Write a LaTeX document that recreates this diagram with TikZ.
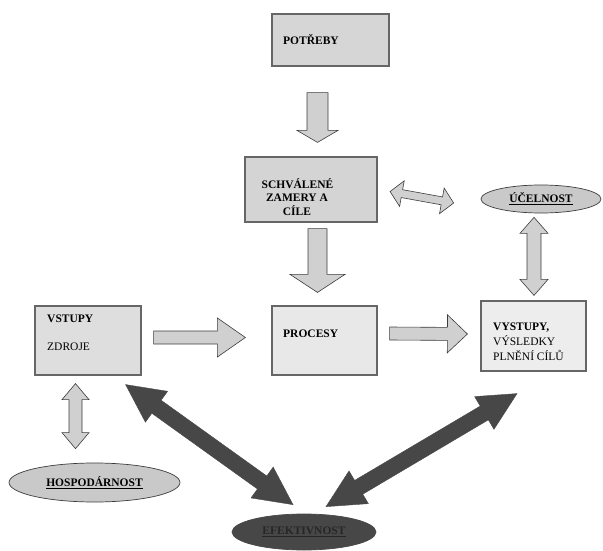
\documentclass[tikz,border=0pt]{standalone}
\usepackage{fontspec}
\setmainfont{Liberation Serif}
\usetikzlibrary{calc,shapes.geometric}

\definecolor{boxline}{HTML}{666666}
\definecolor{arrowline}{HTML}{3C3C3C}
\definecolor{arrowfill}{HTML}{D0D0D0}
\definecolor{darkfill}{HTML}{474747}
\definecolor{ovalfill}{HTML}{C9C9C9}

% block arrow with one head: style, tail, tip, shaft half-width, head half-width, head length
\newcommand{\singleblockarrow}[6]{%
  \draw[#1] ($(#2)!#4!90:(#3)$)
    -- ($(#3)!#6!(#2)!#4!-90:(#2)$)
    -- ($(#3)!#6!(#2)!#5!-90:(#2)$)
    -- (#3)
    -- ($(#3)!#6!(#2)!#5!90:(#2)$)
    -- ($(#3)!#6!(#2)!#4!90:(#2)$)
    -- ($(#2)!#4!-90:(#3)$)
    -- cycle;}

% block arrow with a head at both ends
\newcommand{\doubleblockarrow}[6]{%
  \draw[#1] (#2)
    -- ($(#2)!#6!(#3)!#5!90:(#3)$)
    -- ($(#2)!#6!(#3)!#4!90:(#3)$)
    -- ($(#3)!#6!(#2)!#4!-90:(#2)$)
    -- ($(#3)!#6!(#2)!#5!-90:(#2)$)
    -- (#3)
    -- ($(#3)!#6!(#2)!#5!90:(#2)$)
    -- ($(#3)!#6!(#2)!#4!90:(#2)$)
    -- ($(#2)!#6!(#3)!#4!-90:(#3)$)
    -- ($(#2)!#6!(#3)!#5!-90:(#3)$)
    -- cycle;}

\tikzset{
  stage/.style={draw=boxline, line width=1.2pt, inner sep=0pt},
  lbl/.style={anchor=base west, inner sep=0pt, font=\fontsize{11.5}{13}\selectfont},
  blbl/.style={lbl, font=\fontsize{11.5}{13}\selectfont\bfseries},
  clbl/.style={anchor=base, inner sep=0pt, font=\fontsize{11.5}{13}\selectfont\bfseries},
  lightarrow/.style={draw=arrowline, fill=arrowfill, line width=0.6pt, line join=miter},
  darkarrow/.style={draw=darkfill, fill=darkfill, line width=0.4pt},
  oval/.style={ellipse, draw=arrowline, line width=0.7pt, inner sep=0pt,
    font=\fontsize{11.5}{13}\selectfont\bfseries},
}

\begin{document}
\begin{tikzpicture}[x=1pt, y=-1pt]
\useasboundingbox[fill=white] (0,0) rectangle (603,551);

% stages
\node[stage, fill=black!16, minimum width=117pt, minimum height=52pt] (potreby) at (330.5,40) {};
\node[stage, fill=black!17, minimum width=132pt, minimum height=65pt] (schvalene) at (311,189.5) {};
\node[stage, fill=black!13, minimum width=106pt, minimum height=69pt] (vstupy) at (88,340.5) {};
\node[stage, fill=black!9, minimum width=105pt, minimum height=69pt] (procesy) at (324.5,340.5) {};
\node[stage, fill=black!7, minimum width=105pt, minimum height=70pt] (vystupy) at (533.5,336) {};

% stage texts
\node[blbl] (tpotreby) at (283,45) {POTŘEBY};
\node[clbl] (tschv1) at (297.5,188) {SCHVÁLENÉ};
\node[clbl] (tschv2) at (297,201.5) {ZAMERY A};
\node[clbl] (tschv3) at (297,215) {CÍLE};
\node[blbl] (tvstupy) at (47,322) {VSTUPY};
\node[lbl] (tzdroje) at (47,350) {ZDROJE};
\node[blbl] (tprocesy) at (283,337) {PROCESY};
\node[blbl] (tvystupy) at (493,330) {VYSTUPY,};
\node[lbl] (tvysledky) at (493,345) {VÝSLEDKY};
\node[lbl] (tplneni) at (493,360) {PLNĚNÍ CÍLŮ};

% evaluation criteria
\node[oval, fill=ovalfill, minimum width=120pt, minimum height=28pt] (ucelnost) at (541,199) {\underline{ÚČELNOST}};
\node[oval, fill=ovalfill, minimum width=171pt, minimum height=39pt] (hospodarnost) at (94.5,482.5) {\underline{HOSPODÁRNOST}};
\node[oval, fill=darkfill, draw=darkfill, text=black!85, minimum width=144pt, minimum height=36pt] (efektivnost) at (304,532) {\underline{EFEKTIVNOST}};

% arrow end points
\coordinate (p1) at ($(potreby.south)+(-13,26)$);
\coordinate (p2) at ($(schvalene.north)+(6.5,-14)$);
\coordinate (s1) at ($(schvalene.south)+(6.5,6)$);
\coordinate (s2) at ($(procesy.north)+(-7,-13)$);
\coordinate (v1) at ($(vstupy.east)+(12,-3)$);
\coordinate (v2) at ($(procesy.west)+(-26,-3)$);
\coordinate (r1) at ($(procesy.east)+(12,-7)$);
\coordinate (r2) at ($(vystupy.west)+(-13,-2)$);
\coordinate (sd1) at ($(schvalene.east)+(12.5,2)$);
\coordinate (sd2) at ($(ucelnost.west)+(-27,4)$);
\coordinate (ud1) at ($(ucelnost.south)+(-7,4)$);
\coordinate (ud2) at ($(vystupy.north)+(0.5,-5)$);
\coordinate (hd1) at ($(vstupy.south)+(-12.5,8)$);
\coordinate (hd2) at ($(hospodarnost.north)+(-19,-14)$);
\coordinate (e1) at ($(vstupy.south east)+(-16,9)$);
\coordinate (e2) at ($(efektivnost.north)+(-11,-9)$);
\coordinate (e3) at ($(efektivnost.north)+(22,-7)$);
\coordinate (e4) at ($(vystupy.south)+(-16.5,22)$);

% light block arrows
\singleblockarrow{lightarrow}{p1}{p2}{10.5pt}{20.5pt}{12pt}
\singleblockarrow{lightarrow}{s1}{s2}{9.5pt}{27.5pt}{18pt}
\singleblockarrow{lightarrow}{v1}{v2}{6.5pt}{19.5pt}{28pt}
\singleblockarrow{lightarrow}{r1}{r2}{6.5pt}{19pt}{20pt}
\doubleblockarrow{lightarrow}{sd1}{sd2}{4pt}{13pt}{12pt}
\doubleblockarrow{lightarrow}{ud1}{ud2}{7pt}{14pt}{16pt}
\doubleblockarrow{lightarrow}{hd1}{hd2}{6.5pt}{13.5pt}{16pt}

% dark block arrows
\doubleblockarrow{darkarrow}{e1}{e2}{8pt}{19pt}{38pt}
\doubleblockarrow{darkarrow}{e3}{e4}{8pt}{19pt}{38pt}
\end{tikzpicture}
\end{document}
